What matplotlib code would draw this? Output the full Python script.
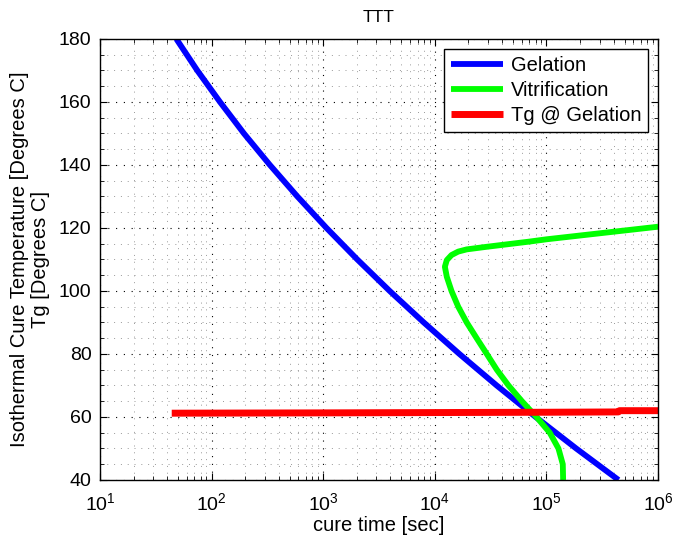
import numpy as np
import matplotlib
matplotlib.use("Agg")
import matplotlib.pyplot as plt
from matplotlib.ticker import MultipleLocator, LogLocator, NullFormatter

# Gelation: cure time [s] vs isothermal cure temperature [C]
gel_T = [180, 170, 160, 150, 140, 130, 120, 110, 100, 90, 80, 70, 60, 50, 40]
gel_t = [48.4, 74.5, 119, 195, 333, 587, 1070, 2020, 3940, 7960, 16600, 35800,
         80000, 184500, 441600]

# Vitrification curve (ordered along the curve by temperature)
vit_T = [40, 45, 50, 55, 60, 65, 70, 75, 80, 85, 90, 95, 100, 104.5, 107.7,
         109.8, 111.4, 112.5, 113.2, 114.0, 115.7, 116.4, 118.4, 120.4]
vit_t = [141000, 140000, 128000, 107000, 81300, 60300, 45700, 35900, 29200, 23700,
         19300, 16200, 14100, 12800, 12300, 12800, 14100, 16200, 19300, 28800,
         71300, 100000, 316000, 1000000]

# Tg at gelation
tg_t = [44, 1e3, 1e4, 1e5, 4.4e5, 4.5e5, 1e6]
tg_T = [61.2, 61.3, 61.4, 61.5, 61.6, 62.0, 62.0]


def main():
    plt.rcParams['font.family'] = ['Liberation Sans', 'DejaVu Sans']
    plt.rcParams['mathtext.default'] = 'regular'

    fig = plt.figure(figsize=(6.75, 5.41), dpi=100)
    ax = fig.add_axes([0.148, 0.1128, 0.827, 0.8152])

    ax.plot(gel_t, gel_T, color='#0000ff', lw=4.2, label='Gelation', solid_capstyle='butt')
    ax.plot(vit_t, vit_T, color='#00ff00', lw=4.2, label='Vitrification', solid_capstyle='butt')
    ax.plot(tg_t, tg_T, color='#ff0000', lw=5, label='Tg @ Gelation', solid_capstyle='butt')

    ax.set_xscale('log')
    ax.set_xlim(10, 1e6)
    ax.set_ylim(40, 180)
    ax.xaxis.set_major_locator(LogLocator(base=10, numticks=10))
    ax.xaxis.set_minor_locator(LogLocator(base=10, subs=np.arange(2, 10), numticks=20))
    ax.xaxis.set_minor_formatter(NullFormatter())
    ax.yaxis.set_major_locator(MultipleLocator(20))
    ax.yaxis.set_minor_locator(MultipleLocator(5))

    ax.grid(True, which='major', linestyle=(0, (1, 6)), color='black', lw=0.8)
    ax.grid(True, which='minor', linestyle=(0, (1, 6)), color='#999999', lw=0.7)

    ax.tick_params(which='both', direction='in', top=True, right=True, labelsize=14)
    ax.tick_params(which='major', length=5)
    ax.tick_params(which='minor', length=3)
    ax.tick_params(axis='x', which='major', pad=9)
    ax.tick_params(axis='y', which='major', pad=6)
    for s in ax.spines.values():
        s.set_linewidth(1.0)

    ax.set_title('TTT', fontsize=12.5, pad=12)
    ax.set_xlabel('cure time [sec]', fontsize=14.5, labelpad=1)
    ax.set_ylabel('Isothermal Cure Temperature [Degrees C]\nTg [Degrees C]',
                  fontsize=14.5, labelpad=6, linespacing=1.15)

    leg = ax.legend(loc='upper right', fontsize=14.5, fancybox=False, edgecolor='black',
                    framealpha=1, handlelength=2.6, borderaxespad=0.5,
                    labelspacing=0.3, handletextpad=0.35, borderpad=0.35)
    leg.get_frame().set_linewidth(1.0)

    fig.savefig('out.png', dpi=100)


if __name__ == "__main__":
    main()
